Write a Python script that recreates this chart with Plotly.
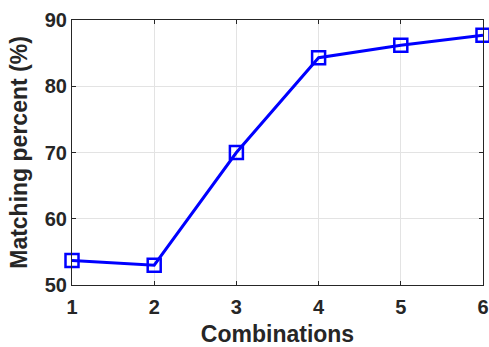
import plotly.graph_objects as go

combinations = [1, 2, 3, 4, 5, 6]
matching_percent = [53.7, 53.0, 70.0, 84.3, 86.2, 87.7]
x_ticks = [1, 2, 3, 4, 5, 6]
y_ticks = [50, 60, 70, 80, 90]

fig = go.Figure()
fig.add_trace(go.Scatter(
    x=combinations, y=matching_percent,
    mode="lines+markers",
    line=dict(color="#0000ff", width=3),
    marker=dict(symbol="square-open", size=13, color="#0000ff",
                line=dict(width=2.5, color="#0000ff")),
    cliponaxis=False,
))

axis_common = dict(
    showline=True, linecolor="#262626", linewidth=1, mirror="ticks",
    ticks="inside", ticklen=4, tickcolor="#262626", tickwidth=1,
    showgrid=True, gridcolor="#e3e3e3", gridwidth=1, zeroline=False,
    automargin=False,
    tickfont=dict(family="Liberation Sans", size=20, color="#262626", weight="bold"),
)

fig.update_xaxes(range=[1, 6], tickvals=x_ticks, ticklabelstandoff=4,
                 title=dict(text="Combinations", standoff=17,
                            font=dict(family="Liberation Sans", size=23, color="#262626", weight="bold")),
                 **axis_common)
fig.update_yaxes(range=[50, 90], tickvals=y_ticks,
                 title=dict(text="Matching percent (%)", standoff=10,
                            font=dict(family="Liberation Sans", size=23, color="#262626", weight="bold")),
                 **axis_common)

fig.update_layout(
    width=489, height=347,
    margin=dict(l=72, r=6, t=20, b=62),
    plot_bgcolor="white", paper_bgcolor="white",
    showlegend=False,
)

fig.write_html("out.html", config={"displayModeBar": False},
               post_script="document.body.style.margin='0';document.body.style.overflow='hidden';")
